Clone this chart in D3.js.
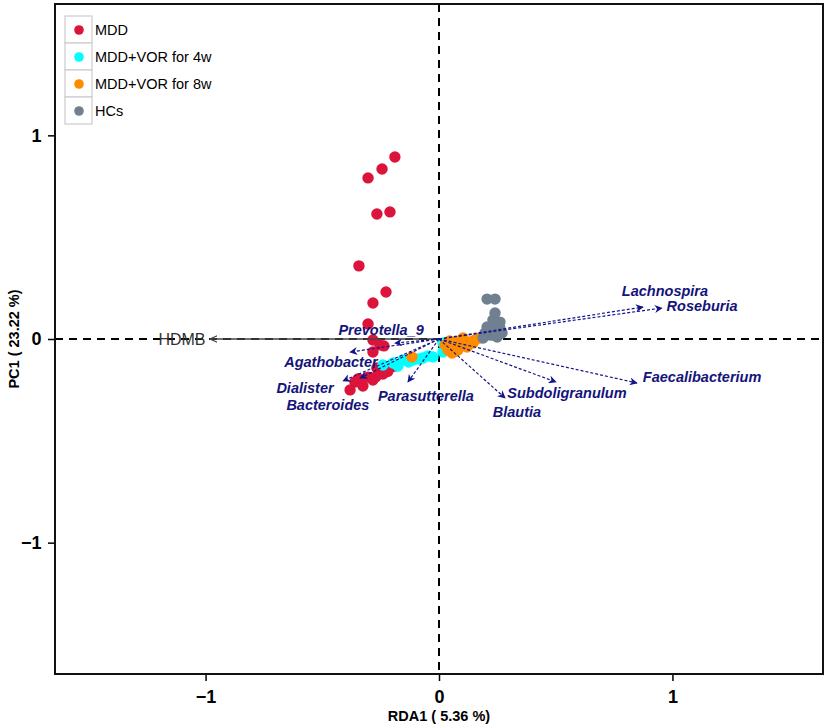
<!DOCTYPE html>
<html>
<head>
<meta charset="utf-8">
<script src="https://cdn.jsdelivr.net/npm/d3@7"></script>
<style>
  body { margin: 0; background: #fff; }
  svg { font-family: "Liberation Sans", Arial, sans-serif; }
</style>
</head>
<body>
<div id="chart"></div>
<script>
// sample scores (RDA1, PC1) per group
const mddPoints = [
  [-0.189, 0.894], [-0.244, 0.835], [-0.304, 0.791], [-0.210, 0.624], [-0.266, 0.614],
  [-0.343, 0.359], [-0.227, 0.231], [-0.283, 0.177], [-0.304, 0.074], [-0.283, -0.005],
  [-0.253, -0.029], [-0.236, -0.034], [-0.283, -0.064], [-0.381, -0.250], [-0.360, -0.211],
  [-0.326, -0.231], [-0.304, -0.187], [-0.283, -0.201], [-0.253, -0.167], [-0.231, -0.152],
  [-0.210, -0.142], [-0.189, -0.133], [-0.266, -0.142], [-0.240, -0.172], [-0.220, -0.160],
  [-0.345, -0.195], [-0.270, -0.185]
];
const vor4Points = [
  [-0.240, -0.128], [-0.197, -0.118], [-0.176, -0.133], [-0.154, -0.103], [-0.111, -0.103],
  [-0.069, -0.093], [-0.047, -0.083], [-0.026, -0.088], [0.017, -0.064], [0.017, -0.020],
  [-0.130, -0.113], [-0.090, -0.098]
];
const vor8Points = [
  [-0.116, -0.088], [0.026, -0.029], [0.039, -0.054], [0.056, -0.069], [0.060, -0.039],
  [0.077, -0.015], [0.081, -0.054], [0.090, -0.029], [0.103, 0.005], [0.111, -0.020],
  [0.120, -0.039], [0.133, -0.015], [0.146, -0.020], [0.154, -0.005], [0.176, 0.005],
  [0.045, -0.010], [0.070, -0.060]
];
const hcPoints = [
  [0.206, 0.196], [0.240, 0.196], [0.240, 0.128], [0.231, 0.093], [0.261, 0.083],
  [0.206, 0.059], [0.231, 0.054], [0.261, 0.054], [0.197, 0.029], [0.231, 0.020],
  [0.270, 0.029], [0.189, 0.005], [0.249, 0.010], [0.219, 0.020], [0.245, 0.070]
];

const groupNames = ["MDD", "MDD+VOR for 4w", "MDD+VOR for 8w", "HCs"];
const groupColors = ["#dc143c", "#00ffff", "#ff8c00", "#708090"];
const groupPoints = [mddPoints, vor4Points, vor8Points, hcPoints];

// taxa vectors: tip and label position
const taxa = ["Lachnospira", "Roseburia", "Faecalibacterium", "Subdoligranulum", "Blautia",
  "Parasutterella", "Bacteroides", "Dialister", "Agathobacter", "Prevotella_9"];
const taxaTips = [
  [0.874, 0.157], [0.955, 0.152], [0.848, -0.216], [0.501, -0.211], [0.283, -0.290],
  [-0.133, -0.211], [-0.338, -0.192], [-0.411, -0.206], [-0.381, -0.064], [-0.189, -0.020]
];
const taxaLabels = [
  [0.968, 0.236], [1.127, 0.162], [1.127, -0.187], [0.548, -0.265], [0.334, -0.359],
  [-0.056, -0.280], [-0.476, -0.324], [-0.574, -0.241], [-0.463, -0.113], [-0.248, 0.044]
];

// environmental vector
const envName = "HDMB";
const envTip = [-0.981, 0];
const envLabel = [-1.101, 0];

const xTicks = [-1, 0, 1];
const yTicks = [-1, 0, 1];
const xTitle = "RDA1 ( 5.36 %)";
const yTitle = "PC1 ( 23.22 %)";

const width = 829, height = 728;
const margin = { top: 4, right: 6, bottom: 54, left: 55 };

const xScale = d3.scaleLinear()
  .domain([-1.645, 1.645])
  .range([margin.left, width - margin.right]);
const yScale = d3.scaleLinear()
  .domain([-1.645, 1.645])
  .range([height - margin.bottom, margin.top]);

const svg = d3.select("#chart").append("svg")
  .attr("width", width)
  .attr("height", height);

const defs = svg.append("defs");
defs.append("marker")
  .attr("id", "head")
  .attr("viewBox", "0 0 10 10")
  .attr("refX", 9).attr("refY", 5)
  .attr("markerWidth", 8).attr("markerHeight", 8)
  .attr("markerUnits", "userSpaceOnUse")
  .attr("orient", "auto")
  .append("path")
  .attr("d", "M0,0L10,5L0,10L3,5Z")
  .attr("fill", "#14148a");
defs.append("marker")
  .attr("id", "envhead")
  .attr("viewBox", "0 0 10 10")
  .attr("refX", 9).attr("refY", 5)
  .attr("markerWidth", 8).attr("markerHeight", 8)
  .attr("markerUnits", "userSpaceOnUse")
  .attr("orient", "auto")
  .append("path")
  .attr("d", "M0,1L9,5L0,9")
  .attr("fill", "none")
  .attr("stroke", "#444")
  .attr("stroke-width", 1.5);

// zero lines
svg.append("line")
  .attr("x1", xScale(0)).attr("x2", xScale(0))
  .attr("y1", yScale.range()[1]).attr("y2", yScale.range()[0])
  .attr("stroke", "#000").attr("stroke-width", 2).attr("stroke-dasharray", "8,6");
svg.append("line")
  .attr("x1", xScale.range()[0]).attr("x2", xScale.range()[1])
  .attr("y1", yScale(0)).attr("y2", yScale(0))
  .attr("stroke", "#000").attr("stroke-width", 2).attr("stroke-dasharray", "8,6");

// points
groupPoints.forEach((pts, i) => {
  svg.append("g")
    .selectAll("circle")
    .data(pts)
    .join("circle")
    .attr("cx", (d) => xScale(d[0]))
    .attr("cy", (d) => yScale(d[1]))
    .attr("r", 5.7)
    .attr("fill", groupColors[i]);
});

// environmental arrow
svg.append("line")
  .attr("x1", xScale(0)).attr("y1", yScale(0))
  .attr("x2", xScale(envTip[0])).attr("y2", yScale(envTip[1]))
  .attr("stroke", "#444").attr("stroke-width", 1.5)
  .attr("marker-end", "url(#envhead)");
svg.append("text")
  .attr("x", xScale(envLabel[0])).attr("y", yScale(envLabel[1]))
  .attr("dy", "0.35em")
  .attr("text-anchor", "middle")
  .attr("font-size", 16)
  .attr("fill", "#333")
  .text(envName);

// taxa arrows
svg.append("g")
  .selectAll("line")
  .data(taxaTips)
  .join("line")
  .attr("x1", xScale(0)).attr("y1", yScale(0))
  .attr("x2", (d) => xScale(d[0]))
  .attr("y2", (d) => yScale(d[1]))
  .attr("stroke", "#14148a")
  .attr("stroke-width", 1.2)
  .attr("stroke-dasharray", "3,2")
  .attr("marker-end", "url(#head)");

svg.append("g")
  .selectAll("text")
  .data(taxa)
  .join("text")
  .attr("x", (d, i) => xScale(taxaLabels[i][0]))
  .attr("y", (d, i) => yScale(taxaLabels[i][1]))
  .attr("dy", "0.35em")
  .attr("text-anchor", "middle")
  .attr("font-size", 14.5)
  .attr("font-weight", "bold")
  .attr("font-style", "italic")
  .attr("fill", "#14147a")
  .text((d) => d);

// axes
const xAxis = svg.append("g")
  .attr("transform", `translate(0,${height - margin.bottom})`)
  .call(d3.axisBottom(xScale).tickValues(xTicks).tickSize(7).tickFormat(d3.format("d")));
const yAxis = svg.append("g")
  .attr("transform", `translate(${margin.left},0)`)
  .call(d3.axisLeft(yScale).tickValues(yTicks).tickSize(7).tickFormat(d3.format("d")));
[xAxis, yAxis].forEach((a) => {
  a.select(".domain").remove();
  a.selectAll(".tick line").attr("stroke", "#000").attr("stroke-width", 1.5);
  a.selectAll(".tick text")
    .attr("font-family", "'Liberation Sans', Arial, sans-serif")
    .attr("font-size", 18)
    .attr("font-weight", "bold")
    .attr("fill", "#000");
});
xAxis.selectAll(".tick text").attr("dy", "1.05em");
yAxis.selectAll(".tick text").attr("dx", "-0.2em");

// frame
svg.append("rect")
  .attr("x", xScale.range()[0]).attr("y", yScale.range()[1])
  .attr("width", xScale.range()[1] - xScale.range()[0])
  .attr("height", yScale.range()[0] - yScale.range()[1])
  .attr("fill", "none")
  .attr("stroke", "#111")
  .attr("stroke-width", 2);

// titles
svg.append("text")
  .attr("x", xScale(0)).attr("y", height - 7)
  .attr("text-anchor", "middle")
  .attr("font-size", 14.5).attr("font-weight", "bold")
  .text(xTitle);
svg.append("text")
  .attr("transform", `translate(19,${yScale(0)}) rotate(-90)`)
  .attr("text-anchor", "middle")
  .attr("font-size", 14.5).attr("font-weight", "bold")
  .text(yTitle);

// legend
const legend = svg.append("g").attr("transform", "translate(65,16)");
const keySize = 27;
groupNames.forEach((name, i) => {
  const g = legend.append("g").attr("transform", `translate(0,${i * keySize})`);
  g.append("rect")
    .attr("width", keySize).attr("height", keySize)
    .attr("fill", "#fff")
    .attr("stroke", "#cccccc").attr("stroke-width", 1.2);
  g.append("circle")
    .attr("cx", 14).attr("cy", 14).attr("r", 4.8)
    .attr("fill", groupColors[i]);
  g.append("text")
    .attr("x", keySize + 3).attr("y", 14)
    .attr("dy", "0.35em")
    .attr("font-size", 14.5)
    .text(name);
});
</script>
</body>
</html>
